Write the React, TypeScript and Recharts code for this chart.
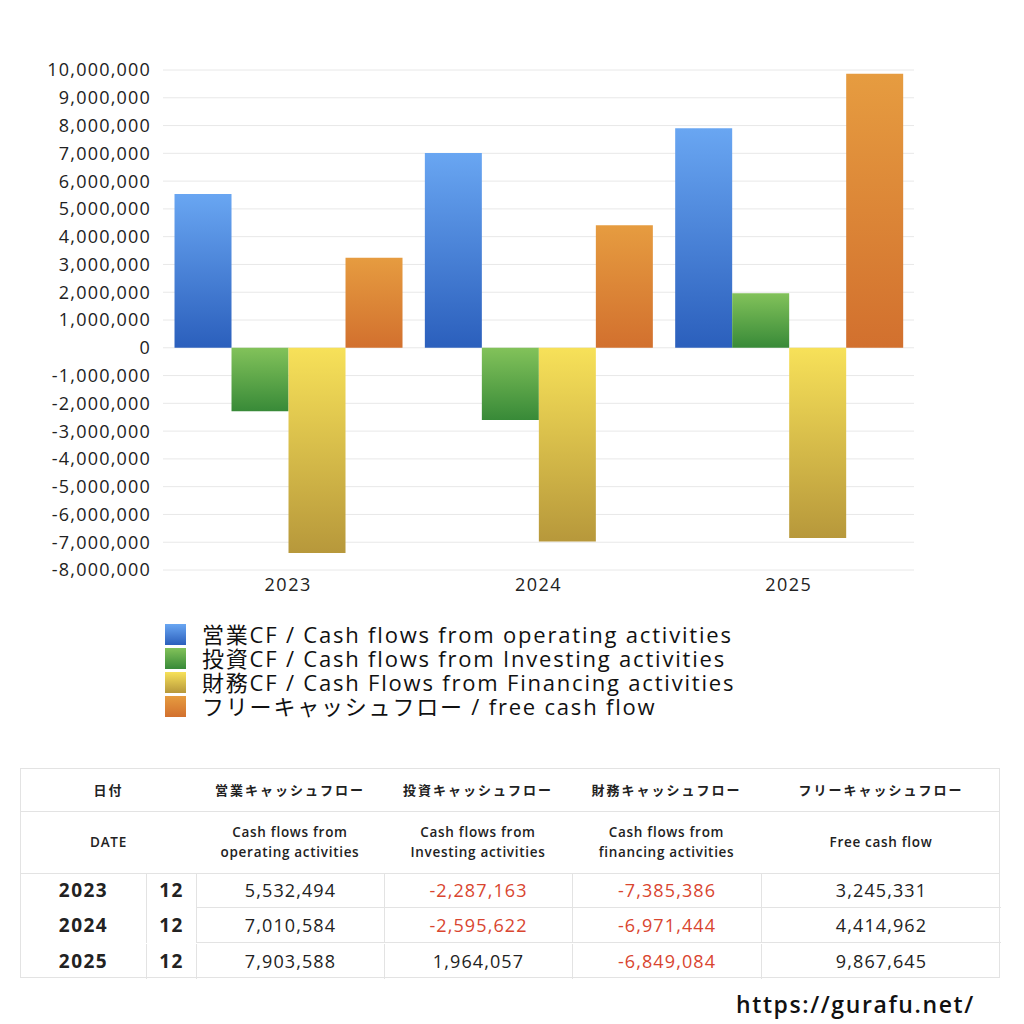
import React from "react";
import { BarChart, Bar, XAxis, YAxis, CartesianGrid } from "recharts";

const years = ["2023", "2024", "2025"];
const operating = [5532494, 7010584, 7903588];
const investing = [-2287163, -2595622, 1964057];
const financing = [-7385386, -6971444, -6849084];
const freeCash = [3245331, 4414962, 9867645];
const yTicks = [
  -8000000, -7000000, -6000000, -5000000, -4000000, -3000000, -2000000, -1000000, 0,
  1000000, 2000000, 3000000, 4000000, 5000000, 6000000, 7000000, 8000000, 9000000, 10000000,
];

const series = [
  { key: "operating", label: "営業CF / Cash flows from operating activities", top: "#69a6f2", bottom: "#2b5fbc" },
  { key: "investing", label: "投資CF / Cash flows from Investing activities", top: "#82c25a", bottom: "#388a38" },
  { key: "financing", label: "財務CF / Cash Flows from Financing activities", top: "#f7e159", bottom: "#b7983b" },
  { key: "freeCash", label: "フリーキャッシュフロー / free cash flow", top: "#e69c40", bottom: "#d2702e" },
];

const headJa = ["営業キャッシュフロー", "投資キャッシュフロー", "財務キャッシュフロー", "フリーキャッシュフロー"];
const headEn = [
  ["Cash flows from", "operating activities"],
  ["Cash flows from", "Investing activities"],
  ["Cash flows from", "financing activities"],
  ["Free cash flow"],
];
const month = "12";

const chartData = years.map((y, i) => ({
  year: y,
  operating: operating[i],
  investing: investing[i],
  financing: financing[i],
  freeCash: freeCash[i],
}));

const font = "'Open Sans', 'Noto Sans CJK JP', sans-serif";
const fmt = (v: number) => v.toLocaleString("en-US");
const border = "1px solid #e3e3e3";

export default function App() {
  const colLeft = [20, 145, 195, 383, 571, 760, 1000];
  const rows = years.map((y, i) => [operating[i], investing[i], financing[i], freeCash[i]]);

  return (
    <div style={{ position: "absolute", left: 0, top: 0, width: 1024, height: 1024, background: "#fff", fontFamily: font, color: "#222" }}>
      <div style={{ position: "absolute", left: 0, top: 0 }}>
        <BarChart
          width={1024}
          height={620}
          data={chartData}
          margin={{ top: 70, right: 110, bottom: 20, left: 23 }}
          barCategoryGap="4.6%"
          barGap={0}
        >
          <defs>
            {series.map((s) => (
              <linearGradient key={s.key} id={`g-${s.key}`} x1="0" y1="0" x2="0" y2="1">
                <stop offset="0%" stopColor={s.top} />
                <stop offset="100%" stopColor={s.bottom} />
              </linearGradient>
            ))}
          </defs>
          <CartesianGrid vertical={false} stroke="#e8e8e8" />
          <XAxis
            dataKey="year"
            axisLine={false}
            tickLine={false}
            tickSize={0}
            tickMargin={8}
            height={30}
            tick={{ fontSize: 18, fill: "#222", fontFamily: font, letterSpacing: 1.5 }}
          />
          <YAxis
            domain={[-8000000, 10000000]}
            ticks={yTicks}
            interval={0}
            axisLine={false}
            tickLine={false}
            tickSize={0}
            tickMargin={12}
            width={140}
            tickFormatter={fmt}
            tick={{ fontSize: 18, fill: "#222", fontFamily: font, letterSpacing: 1.2 }}
          />
          {series.map((s) => (
            <Bar key={s.key} dataKey={s.key} fill={`url(#g-${s.key})`} isAnimationActive={false} />
          ))}
        </BarChart>
      </div>

      <div style={{ position: "absolute", left: 165, top: 622 }}>
        {series.map((s) => (
          <div key={s.key} style={{ display: "flex", alignItems: "center", height: 24 }}>
            <div style={{ width: 21, height: 21, background: `linear-gradient(${s.top}, ${s.bottom})`, marginRight: 16 }} />
            <span style={{ fontSize: 22, lineHeight: "24px", color: "#111", whiteSpace: "nowrap", letterSpacing: 1.8 }}>{s.label}</span>
          </div>
        ))}
      </div>

      <div style={{ position: "absolute", left: 20, top: 768, width: 980, height: 210, border, boxSizing: "border-box" }}>
        {/* header row 1 */}
        <div style={{ position: "absolute", left: 0, top: 0, width: 978, height: 42, borderBottom: border, fontSize: 13, fontWeight: 700 }}>
          <div style={{ position: "absolute", left: 0, width: 175, top: 0, height: 42, lineHeight: "42px", textAlign: "center", letterSpacing: 2 }}>日付</div>
          {headJa.map((h, j) => (
            <div key={h} style={{ position: "absolute", left: colLeft[j + 2] - 20, width: colLeft[j + 3] - colLeft[j + 2], top: 0, height: 42, lineHeight: "42px", textAlign: "center", letterSpacing: 2 }}>
              {h}
            </div>
          ))}
        </div>
        {/* header row 2 */}
        <div style={{ position: "absolute", left: 0, top: 42, width: 978, height: 62, borderBottom: border, fontSize: 13.5, fontWeight: 600, letterSpacing: 0.7 }}>
          <div style={{ position: "absolute", left: 0, width: 175, top: 0, height: 62, lineHeight: "62px", textAlign: "center" }}>DATE</div>
          {headEn.map((h, j) => (
            <div key={j} style={{ position: "absolute", left: colLeft[j + 2] - 20, width: colLeft[j + 3] - colLeft[j + 2], top: 0, height: 62, display: "flex", flexDirection: "column", justifyContent: "center", alignItems: "center", lineHeight: "20px" }}>
              {h.map((t) => (
                <div key={t}>{t}</div>
              ))}
            </div>
          ))}
        </div>
        {/* data rows */}
        {rows.map((r, i) => (
          <div key={years[i]} style={{ position: "absolute", left: 0, top: 104 + i * 35.3, width: 978, height: 35 }}>
            <div style={{ position: "absolute", left: 0, width: 125, height: 35, lineHeight: "35px", textAlign: "center", fontSize: 19, fontWeight: 700, letterSpacing: 1.5 }}>{years[i]}</div>
            <div style={{ position: "absolute", left: 125, width: 50, height: 35, lineHeight: "35px", textAlign: "center", fontSize: 19, fontWeight: 700, letterSpacing: 1.5, borderLeft: border, boxSizing: "border-box" }}>{month}</div>
            {r.map((v, j) => (
              <div
                key={j}
                style={{
                  position: "absolute",
                  left: colLeft[j + 2] - 20,
                  width: colLeft[j + 3] - colLeft[j + 2],
                  height: 35,
                  lineHeight: "35px",
                  textAlign: "center",
                  fontSize: 18,
                  letterSpacing: 1.1,
                  color: v < 0 ? "#d9452f" : "#222",
                  borderLeft: border,
                  borderBottom: i < rows.length - 1 ? border : "none",
                  boxSizing: "border-box",
                }}
              >
                {fmt(v)}
              </div>
            ))}
          </div>
        ))}
      </div>

      <div style={{ position: "absolute", left: 736, top: 988, fontSize: 23, fontWeight: 600, color: "#111", letterSpacing: 1.6 }}>https://gurafu.net/</div>
    </div>
  );
}
